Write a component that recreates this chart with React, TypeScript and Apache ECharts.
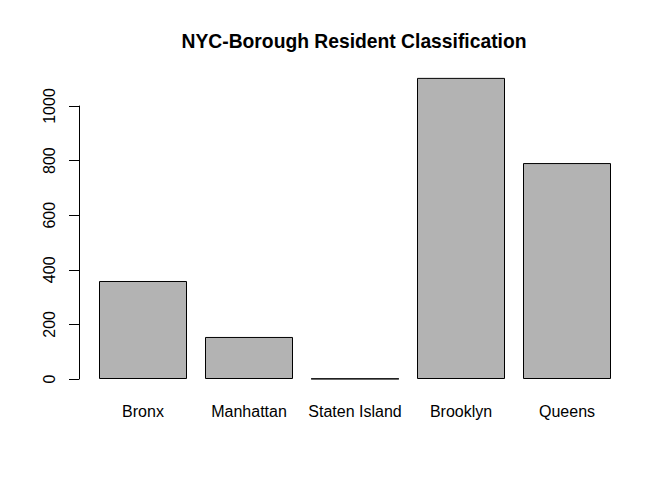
import React, { useEffect, useRef } from "react";
import * as echarts from "echarts";

const categories = ["Bronx", "Manhattan", "Staten Island", "Brooklyn", "Queens"];
const residents = [359, 154, 1, 1103, 791];
const yTicks = [0, 200, 400, 600, 800, 1000];

export default function App() {
  const ref = useRef<HTMLDivElement>(null);
  useEffect(() => {
    const chart = echarts.init(ref.current!, null, { renderer: "svg" });
    chart.setOption({
      animation: false,
      backgroundColor: "#ffffff",
      textStyle: { fontFamily: "Liberation Sans, Arial, sans-serif" },
      title: {
        text: "NYC-Borough Resident Classification",
        left: 349,
        top: 27,
        textAlign: "center",
        textStyle: { fontSize: 19.3, fontWeight: "bold", color: "#000", fontFamily: "Liberation Sans, Arial, sans-serif" },
      },
      grid: { left: 90, right: 52, top: 106, bottom: 101, containLabel: false },
      xAxis: {
        type: "category",
        data: categories,
        axisLine: { show: false },
        axisTick: { show: false },
        axisLabel: { color: "#000", fontSize: 16, margin: 24, interval: 0 },
      },
      yAxis: {
        type: "value",
        min: yTicks[0],
        max: yTicks[yTicks.length - 1],
        interval: 200,
        offset: 11,
        splitLine: { show: false },
        axisLine: { show: true, lineStyle: { color: "#000", width: 1 } },
        axisTick: { show: true, length: 10, lineStyle: { color: "#000", width: 1 } },
        axisLabel: {
          color: "#000",
          fontSize: 16,
          rotate: 90,
          margin: 22,
          align: "center",
          verticalAlign: "bottom",
          formatter: (v: number) => String(v),
        },
      },
      series: [
        {
          type: "bar",
          data: residents,
          barWidth: 88,
          clip: false,
          itemStyle: { color: "#b3b3b3", borderColor: "#000", borderWidth: 1 },
        },
      ],
    });
    return () => chart.dispose();
  }, []);
  return <div ref={ref} style={{ width: 672, height: 480, position: "absolute", left: 0, top: 0 }} />;
}
